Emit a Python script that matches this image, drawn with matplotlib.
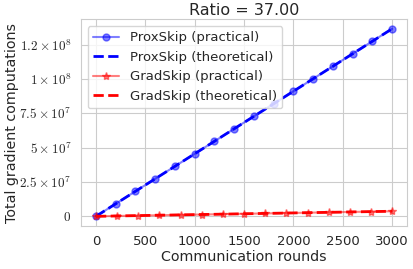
import matplotlib
matplotlib.use("Agg")
import matplotlib.pyplot as plt
import seaborn as sns

sns.set_style("whitegrid")
plt.rcParams['mathtext.fontset'] = 'cm'

# data
prox_rounds = [0, 200, 400, 600, 800, 1000, 1200, 1400, 1600, 1800,
               2000, 2200, 2400, 2600, 2800, 3000]
prox_practical = [0, 9.1e6, 1.82e7, 2.73e7, 3.64e7, 4.55e7, 5.46e7, 6.37e7,
                  7.28e7, 8.19e7, 9.1e7, 1.001e8, 1.092e8, 1.183e8, 1.274e8, 1.365e8]
prox_theory_rounds = [0, 3000]
prox_theory = [0, 1.365e8]

grad_rounds = [0, 214, 429, 643, 857, 1071, 1286, 1500, 1714, 1929,
               2143, 2357, 2571, 2786, 3000]
grad_practical = [0, 2.635e5, 5.27e5, 7.905e5, 1.054e6, 1.3175e6, 1.581e6,
                  1.8445e6, 2.108e6, 2.3715e6, 2.635e6, 2.8985e6, 3.162e6,
                  3.4255e6, 3.689e6]
grad_theory_rounds = [0, 3000]
grad_theory = [0, 3.689e6]

ytick_vals = [0, 2.5e7, 5e7, 7.5e7, 1e8, 1.25e8]
ytick_labels = [r'$0$', r'$2.5\times10^{7}$', r'$5\times10^{7}$',
                r'$7.5\times10^{7}$', r'$1\times10^{8}$', r'$1.2\times10^{8}$']

fig = plt.figure(figsize=(4.14, 2.69), dpi=100)
ax = fig.add_axes([0.196, 0.161, 0.787, 0.767])

ax.plot(prox_rounds, prox_practical, color='blue', marker='o', alpha=0.5,
        markersize=5, label='ProxSkip (practical)')
ax.plot(prox_theory_rounds, prox_theory, color='blue', linestyle='--',
        linewidth=2, label='ProxSkip (theoretical)')
ax.plot(grad_rounds, grad_practical, color='red', marker='*', alpha=0.5,
        markersize=6, label='GradSkip (practical)')
ax.plot(grad_theory_rounds, grad_theory, color='red', linestyle='--',
        linewidth=2, label='GradSkip (theoretical)')

ax.set_yticks(ytick_vals)
ax.set_yticklabels(ytick_labels, fontsize=9.5)
ax.set_xticks([0, 500, 1000, 1500, 2000, 2500, 3000])
ax.tick_params(axis='x', labelsize=9.5)

ax.set_xlabel('Communication rounds', fontsize=10.3, labelpad=1)
ax.set_ylabel('Total gradient computations', fontsize=10.3)
ax.yaxis.set_label_coords(-0.19, 0.5)
ax.set_title('Ratio = 37.00', fontsize=11.5, pad=3)
ax.legend(loc='upper left', fontsize=9.5)

fig.savefig('out.png', dpi=100)
